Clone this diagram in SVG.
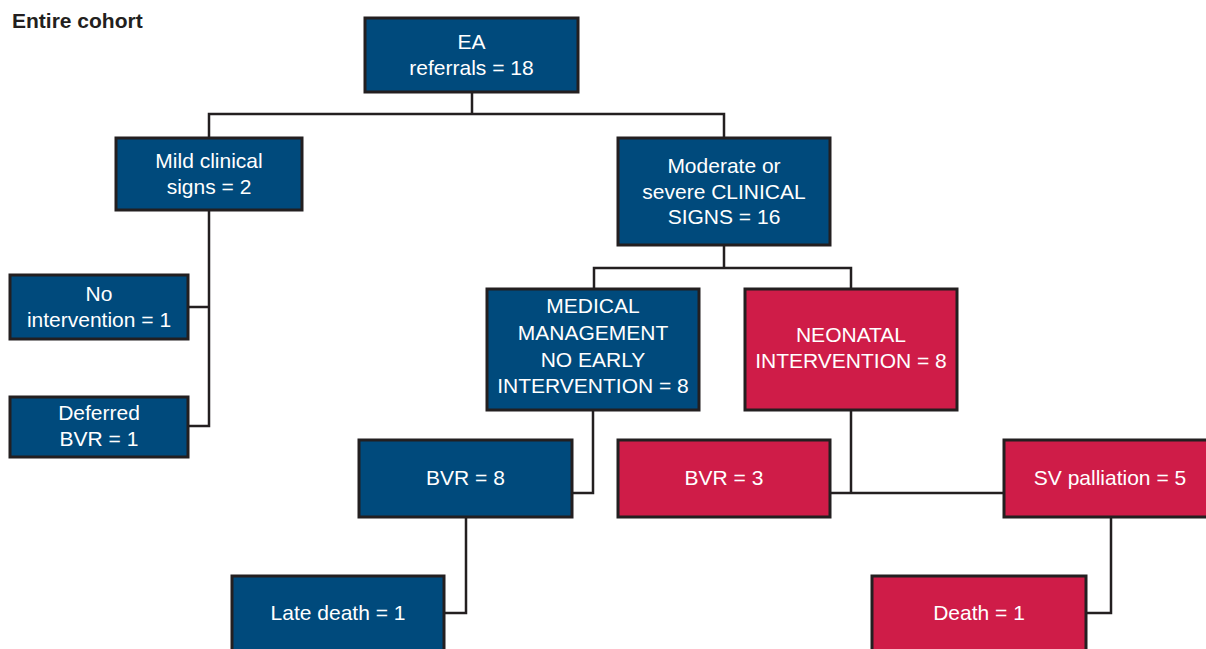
<svg xmlns="http://www.w3.org/2000/svg" width="1206" height="649" viewBox="0 0 1206 649">
<style>
.b{fill:#004a7c;stroke:#231f20;stroke-width:3}
.r{fill:#cf1c48;stroke:#231f20;stroke-width:3}
.t{font-family:"Liberation Sans",Arial,sans-serif;font-size:21px;fill:#ffffff;text-anchor:middle}
.c{fill:none;stroke:#231f20;stroke-width:2.5}
</style>
<rect width="1206" height="649" fill="#ffffff"/>
<text x="12" y="28" font-family="Liberation Sans,Arial,sans-serif" font-size="21" font-weight="bold" fill="#231f20">Entire cohort</text>
<g id="connectors">
<path class="c" d="M472 92V114M209 138V114H724V138"/>
<path class="c" d="M209 210V426H188M188 307H209"/>
<path class="c" d="M724 245V268M594 289V268H851V289"/>
<path class="c" d="M593 410V493H572"/>
<path class="c" d="M851 410V493M830 493H1004"/>
<path class="c" d="M466 517V613H444"/>
<path class="c" d="M1111 517V613H1086"/>
</g>
<g id="ea"><rect class="b" x="365" y="18" width="213" height="74"/><text class="t" x="471.5" y="49">EA</text><text class="t" x="471.5" y="75">referrals = 18</text></g>
<g id="mild"><rect class="b" x="116" y="138" width="186" height="72"/><text class="t" x="209" y="168">Mild clinical</text><text class="t" x="209" y="194">signs = 2</text></g>
<g id="moderate"><rect class="b" x="618" y="138" width="212" height="107"/><text class="t" x="724" y="173">Moderate or</text><text class="t" x="724" y="199">severe CLINICAL</text><text class="t" x="724" y="224">SIGNS = 16</text></g>
<g id="nointervention"><rect class="b" x="10" y="275" width="178" height="64"/><text class="t" x="99" y="301">No</text><text class="t" x="99" y="327">intervention = 1</text></g>
<g id="deferred"><rect class="b" x="10" y="397" width="178" height="60"/><text class="t" x="99" y="420">Deferred</text><text class="t" x="99" y="446">BVR = 1</text></g>
<g id="medical"><rect class="b" x="487" y="289" width="212" height="121"/><text class="t" x="593" y="313">MEDICAL</text><text class="t" x="593" y="340">MANAGEMENT</text><text class="t" x="593" y="367">NO EARLY</text><text class="t" x="593" y="393">INTERVENTION = 8</text></g>
<g id="neonatal"><rect class="r" x="745" y="289" width="212" height="121"/><text class="t" x="851" y="342">NEONATAL</text><text class="t" x="851" y="368">INTERVENTION = 8</text></g>
<g id="bvr8"><rect class="b" x="359" y="440" width="213" height="77"/><text class="t" x="465.5" y="485">BVR = 8</text></g>
<g id="bvr3"><rect class="r" x="618" y="440" width="212" height="77"/><text class="t" x="724" y="485">BVR = 3</text></g>
<g id="sv"><rect class="r" x="1004" y="440" width="212" height="77"/><text class="t" x="1110" y="485">SV palliation = 5</text></g>
<g id="latedeath"><rect class="b" x="232" y="576" width="212" height="80"/><text class="t" x="338" y="620">Late death = 1</text></g>
<g id="death"><rect class="r" x="872" y="576" width="214" height="80"/><text class="t" x="979" y="620">Death = 1</text></g>
</svg>
